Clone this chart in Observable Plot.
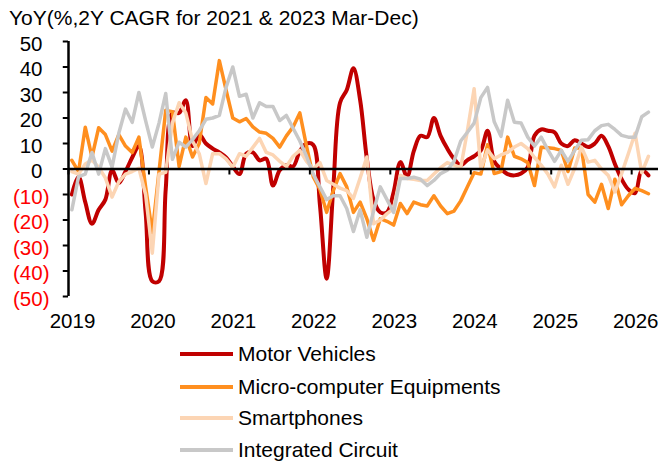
<!DOCTYPE html>
<html>
<head>
<meta charset="utf-8">
<script src="https://cdn.jsdelivr.net/npm/d3@7"></script>
<script src="https://cdn.jsdelivr.net/npm/@observablehq/plot@0.6"></script>
<style>
  body { margin: 0; background: #fff; font-family: "Liberation Sans", Arial, sans-serif; }
  #wrap { position: relative; width: 659px; height: 464px; overflow: hidden; background: #fff; }
  #title { position: absolute; left: 9px; top: 6px; font-size: 21px; line-height: 24px; white-space: nowrap; color: #000; }
  #chart { position: absolute; left: 0; top: 30px; }
  .row { position: absolute; left: 180px; height: 24px; display: flex; align-items: center; font-size: 21px; line-height: 24px; white-space: nowrap; color: #000; }
  .sw { width: 53px; height: 4px; margin-right: 5px; }
</style>
</head>
<body>
<div id="wrap">
  <div id="title">YoY(%,2Y CAGR for 2021 &amp; 2023 Mar-Dec)</div>
  <div id="chart"></div>
  <div id="legend"></div>
</div>
<script>
// Monthly categories Jan 2019 .. Mar 2026
const months = [];
for (let y = 2019; y <= 2026; y++) for (let m = 1; m <= 12; m++) {
  if (y === 2026 && m > 3) break;
  months.push(`${y}-${String(m).padStart(2, "0")}`);
}

const seriesNames = ["Motor Vehicles", "Micro-computer Equipments", "Smartphones", "Integrated Circuit"];
const seriesColors = ["#C00000", "#FF8F1F", "#FCD5B4", "#C8C8C8"];

const motorVehicles = [
  -10, -3, -13, -21.5, -16, -12, -0.5, -5.5, -1, 4.5, 9, -17,
  -44, -44, -8, 22, 22, 27, 9, 13.5, 10, 8, 6.5, 4.5,
  1, -2, 6, 6.5, 3.4, 4, -6.5, -0.5, 1.5, 1, 7, 10,
  9.5, -14, -43, -7, 26, 31, 39.5, 27, 4, -12, -17, -17,
  -9, 2.7, -3, 7, 13, 12.5, 20, 13, 8, 4, 1.5, 3.5,
  5, 7.3, 15, 3, 0, -2, -2.5, -1.8, 0.7, 13, 15.5, 15,
  14.4, 10, 9, 11.3, 10, 8.6, 10, 13, 9, 2, -4, -8,
  -9.5, -0.5, -2.5
];
const microComputer = [
  3.4, -1, 16.4, 4.7, 16.2, 13.5, 7, 13.5, 9, 6.5, 12.5, -7,
  -25, -1, 23, 22.5, 1, 12.5, 4.7, 10, 28, 25.5, 42.5, 31,
  20, 18.5, 19.8, 16.5, 14.5, 14, 12, 8.6, 13, 16.5, 22, 9,
  -3, -8, -17, -8.4, -1.8, -7, -17, -13, -19.5, -28, -19.5, -20.5,
  -22, -13.5, -17.5, -13, -14, -14.5, -10.5, -14.5, -17.5, -16.5, -12.5, -7,
  -1.5, -2, 9.5, -1.8, -1, 12.5, 5, 4, 2.5, -6.5, 8.5, 8.3,
  8, 7.3, -1, 8.2, 8.3, -10, -13, -6, -15.5, -4, -14, -10.5,
  -7.6, -8.5, -9.7
];
const smartphones = [
  -1, -2, 2, 3.5, 0.7, -3.5, -11, -5, -2, -1, 0.3, -10,
  -33, -2, -1.3, 18, 26, 22, 11, 6, -5.7, 6, 6, 4,
  0.7, 6, 5, 8.5, 12, 6.5, 5.5, 3, 1, 5, 7.3, 3,
  0, 2.5, -4.5, -6, -7.5, -8.5, -11.5, -3.5, 4.7, -21.5, -20, -17.5,
  -15.5, -2.5, -3.7, -4, -4.5, -4.5, -2, 0.5, 2.5, 1.5, 0.5, 15,
  31.5, 0, 7.5, 4, 5.5, 6.5, 8.6, 10, 8, 4.5, 1.5, -2,
  -7, 1.5, -6, 0.3, 8.6, 2.7, 3.4, 0, -2.5, -9, -1.8, 6,
  14, -1.5, 5
];
const integratedCircuit = [
  -16, -3, -2, 6.5, -2, 8, 0.7, 14, 23.5, 18.3, 30, 19,
  8.6, 18, 29.6, 3.8, 10.5, 8.6, 11.5, 15, 19.5, 20, 21, 32,
  40, 28.5, 29.3, 20, 26, 24.5, 24.5, 19, 21, 16, 11, 5,
  -2, -7, -12, -10.5, -10.5, -15.5, -24.5, -16, -26.8, -16.5, -7, -12,
  -17, -3.7, -3.7, -3.2, -4, -6.5, -4.5, -1.8, -0.5, 3, 11, 14.4,
  18, 28, 32, 18.5, 12.8, 27, 18.3, 18, 12.5, 9, 12.5, 7.5,
  3, 7.3, 3, 7.3, 11.3, 11.5, 15, 17, 17.5, 15.5, 13.2, 12.5,
  12.5, 20.5, 22.3
];

const yTicks = [50, 40, 30, 20, 10, 0, -10, -20, -30, -40, -50];
const yearLabels = ["2019", "2020", "2021", "2022", "2023", "2024", "2025", "2026"];

const allValues = [motorVehicles, microComputer, smartphones, integratedCircuit];
const rows = [];
allValues.forEach((vals, s) => {
  vals.forEach((v, i) => rows.push({series: seriesNames[s], idx: i + 0.5, month: months[i], value: v}));
});
const yearPos = yearLabels.map((label, i) => ({label, idx: i * 12}));

const font = "Liberation Sans, Arial, sans-serif";
const marks = [];
// series lines in drawing order
seriesNames.forEach((name, s) => {
  marks.push(Plot.line(rows.filter(d => d.series === name), {
    x: "idx", y: "value", stroke: seriesColors[s],
    strokeWidth: s === 0 ? 4 : 3.5,
    curve: s === 0 ? "catmull-rom" : "linear",
    strokeLinejoin: "round", strokeLinecap: "round"
  }));
});
// zero line acting as x axis
marks.push(Plot.ruleY([0], {x1: 0, x2: 88, stroke: "#000", strokeWidth: 2.5}));
// x ticks on zero line
marks.push(Plot.ruleX(yearPos, {x: "idx", y1: 0, y2: -2.35, stroke: "#000", strokeWidth: 2}));
// y axis line
marks.push(Plot.ruleX([0], {y1: -50, y2: 50, stroke: "#000", strokeWidth: 2.5}));
// y ticks
marks.push(Plot.ruleY(yTicks, {y: d => d, x1: -0.78, x2: 0, stroke: "#000", strokeWidth: 2}));
// y labels
marks.push(Plot.text(yTicks.filter(d => d >= 0), {
  x: 0, y: d => d, text: d => String(d), textAnchor: "end", dx: -26, dy: 2.5,
  fontSize: 20.5, fill: "#000"
}));
marks.push(Plot.text(yTicks.filter(d => d < 0), {
  x: 0, y: d => d, text: d => `(${-d})`, textAnchor: "end", dx: -19, dy: 2.5,
  fontSize: 20.5, fill: "#FF0000"
}));
// year labels
marks.push(Plot.text(yearPos, {
  x: "idx", y: -50, text: "label", lineAnchor: "top", dy: 17, dx: 4,
  fontSize: 20.5, fill: "#000"
}));

const chart = Plot.plot({
  width: 659,
  height: 300,
  marginLeft: 68,
  marginRight: 1,
  marginTop: 11,
  marginBottom: 34,
  style: {fontFamily: font, background: "transparent", overflow: "visible"},
  x: {type: "linear", domain: [0, 88], axis: null},
  y: {type: "linear", domain: [-50, 50], axis: null},
  marks
});
document.getElementById("chart").appendChild(chart);

// legend below the chart
const legend = document.getElementById("legend");
const centers = [354, 387, 418, 450];
seriesNames.forEach((name, s) => {
  const row = document.createElement("div");
  row.className = "row";
  row.style.top = (centers[s] - 12) + "px";
  const sw = document.createElement("div");
  sw.className = "sw";
  sw.style.background = seriesColors[s];
  const tx = document.createElement("span");
  tx.textContent = name;
  row.appendChild(sw);
  row.appendChild(tx);
  legend.appendChild(row);
});
</script>
</body>
</html>
